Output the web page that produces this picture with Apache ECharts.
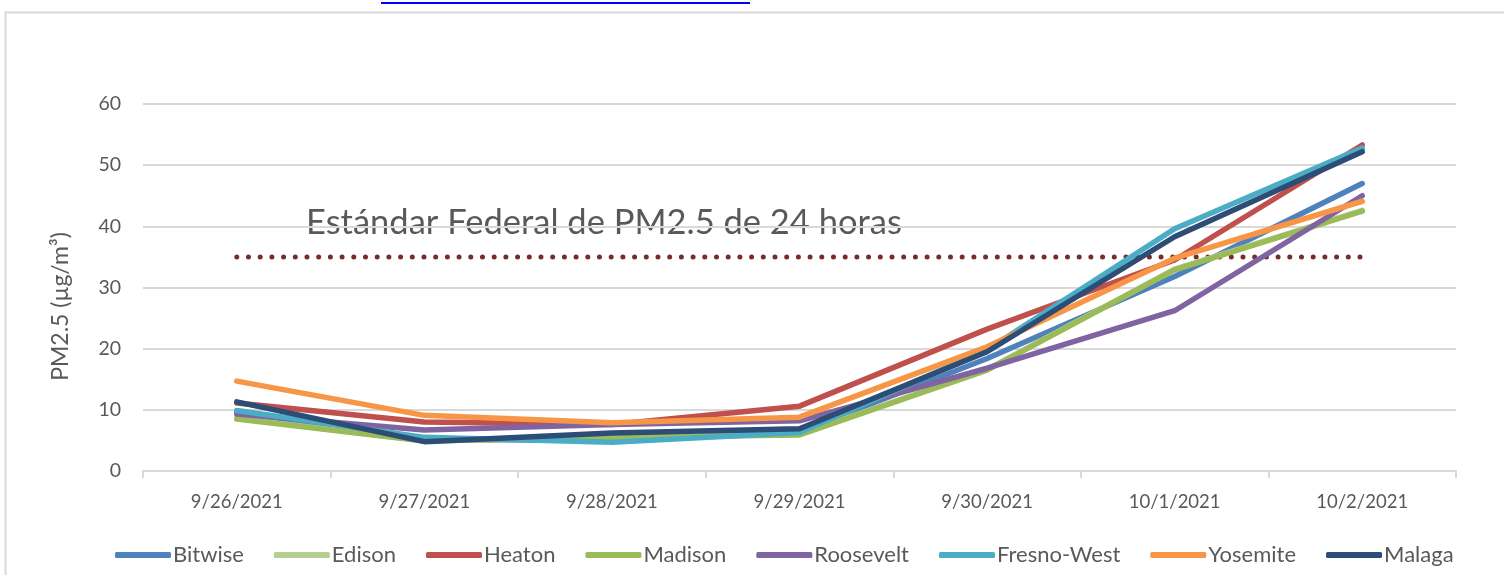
<!DOCTYPE html>
<html>
<head>
<meta charset="utf-8">
<script src="https://cdn.jsdelivr.net/npm/echarts@6/dist/echarts.min.js"></script>
<style>html,body{margin:0;padding:0;background:#fff}#c{width:1504px;height:575px}</style>
</head>
<body>
<div id="c"></div>
<script>
const categories = ['9/26/2021','9/27/2021','9/28/2021','9/29/2021','9/30/2021','10/1/2021','10/2/2021'];
const yTicks = [0,10,20,30,40,50,60];
const seriesNames = ['Bitwise','Edison','Heaton','Madison','Roosevelt','Fresno-West','Yosemite','Malaga'];
const bitwise    = [9.6, 5.2, 5.0, 6.4, 18.4, 31.8, 47.0];
const edison     = [8.6, 5.0, 5.3, 6.0, 16.6, 33.0, 42.6];
const heaton     = [11.1, 8.0, 7.6, 10.6, 23.2, 34.5, 53.3];
const madison    = [8.5, 4.9, 5.5, 5.9, 16.5, 32.9, 42.5];
const roosevelt  = [9.3, 6.7, 7.6, 8.2, 16.8, 26.2, 45.0];
const fresnoWest = [9.9, 5.5, 4.7, 6.3, 19.8, 39.6, 52.8];
const yosemite   = [14.7, 9.1, 7.9, 8.8, 20.3, 34.8, 44.1];
const malaga     = [11.3, 4.8, 6.2, 6.9, 19.5, 38.3, 52.2];
const standard   = [35, 35, 35, 35, 35, 35, 35];
const standardLabel = 'Estándar Federal de PM2.5 de 24 horas';
const yAxisName = 'PM2.5 (µg/m³)';

const values = [bitwise, edison, heaton, madison, roosevelt, fresnoWest, yosemite, malaga];
const colors = ['#4F81BD','#B5CE92','#C0504D','#9BBB59','#8064A2','#4BACC6','#F79646','#2C4D75'];

const chart = echarts.init(document.getElementById('c'));
const FONT = 'Lato';
const series = values.map((d, i) => ({
  name: seriesNames[i],
  type: 'line',
  data: d,
  symbol: 'none',
  color: colors[i],
  lineStyle: { width: 5.5, cap: 'round', join: 'round', color: colors[i] },
  z: 3 + i
}));
series.unshift({
  name: 'standard',
  type: 'line',
  data: standard,
  symbol: 'none',
  silent: true,
  lineStyle: { width: 5, color: '#772B2B', type: [0, 11.7], cap: 'round' },
  z: 2
});

chart.setOption({
  animation: false,
  textStyle: { fontFamily: FONT },
  grid: { left: 143, right: 48, top: 104, bottom: 104, containLabel: false },
  xAxis: {
    type: 'category',
    data: categories,
    boundaryGap: true,
    axisLine: { lineStyle: { color: '#D9D9D9', width: 2 } },
    axisTick: { show: true, length: 7, lineStyle: { color: '#D9D9D9', width: 2 }, alignWithLabel: false },
    axisLabel: { color: '#595959', fontSize: 18.5, margin: 22, fontFamily: FONT }
  },
  yAxis: {
    type: 'value',
    min: 0, max: 60, interval: 10,
    name: yAxisName,
    nameLocation: 'middle',
    nameGap: 71,
    nameRotate: 90,
    nameTextStyle: { color: '#595959', fontSize: 23, fontFamily: FONT, padding: [0, 38, 0, 0] },
    axisLine: { show: false },
    axisTick: { show: false },
    axisLabel: { color: '#595959', fontSize: 19.5, margin: 22, fontFamily: FONT },
    splitLine: { lineStyle: { color: '#D9D9D9', width: 2 } }
  },
  legend: {
    bottom: 4,
    left: 110,
    icon: 'roundRect',
    itemWidth: 56,
    itemHeight: 6,
    itemGap: 30,
    data: seriesNames,
    textStyle: { color: '#595959', fontSize: 22, fontFamily: FONT, padding: [0,0,0,-3] }
  },
  graphic: [
    { type: 'rect', shape: { x: 5.5, y: 12.5, width: 1600, height: 600 }, style: { fill: 'none', stroke: '#D9D9D9', lineWidth: 2 }, silent: true },
    { type: 'line', shape: { x1: 381, y1: 3, x2: 750, y2: 3 }, style: { stroke: '#0000FF', lineWidth: 2 }, silent: true },
    { type: 'text', left: 306, top: 205, style: { text: standardLabel, fill: '#595959', fontSize: 34.5, fontFamily: FONT }, silent: true }
  ],
  series: series
});
</script>
</body>
</html>
